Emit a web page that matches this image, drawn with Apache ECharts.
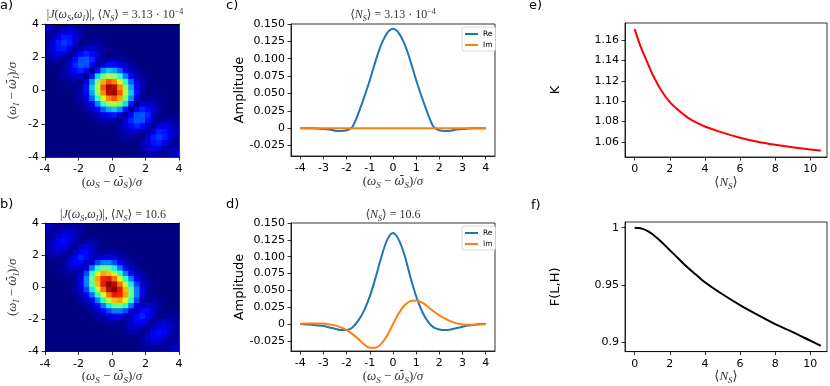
<!DOCTYPE html>
<html>
<head>
<meta charset="utf-8" />
<title>JSA panels</title>
<script src="https://cdn.jsdelivr.net/npm/echarts@6/dist/echarts.min.js"></script>
<style>
  html, body { margin: 0; padding: 0; background: #fff; }
  #chart { width: 830px; height: 386px; }
</style>
</head>
<body>
<div id="chart"></div>
<script type="text/javascript">
// |J| maps, 24x24 cells, top row first, values in percent of the peak
var jsaLow = [
  [8,6,2,3,5,4,2,1,0,0,0,0,0,0,0,0,0,0,0,0,0,0,0,0],
  [6,2,5,9,10,7,4,1,0,0,0,0,0,0,0,0,0,0,0,0,0,0,0,0],
  [2,5,11,15,14,10,4,0,1,1,1,0,0,0,0,0,0,0,0,0,0,0,0,0],
  [3,9,15,18,15,8,1,2,3,3,1,1,0,0,0,0,0,0,0,0,0,0,0,0],
  [5,10,14,15,10,2,5,8,8,5,3,1,0,0,0,0,0,0,0,0,0,0,0,0],
  [4,7,10,8,2,6,13,16,13,8,3,0,1,1,1,0,0,0,0,0,0,0,0,0],
  [2,4,4,1,5,13,20,21,16,8,1,4,5,4,2,1,0,0,0,0,0,0,0,0],
  [1,1,0,2,8,16,21,20,12,1,9,14,13,10,6,3,1,0,0,0,0,0,0,0],
  [0,0,1,3,8,13,16,12,1,14,27,32,29,22,13,7,3,1,0,0,0,0,0,0],
  [0,0,1,3,5,8,8,1,14,34,50,57,53,40,25,13,6,2,1,0,0,0,0,0],
  [0,0,1,1,3,3,1,9,27,50,72,82,77,61,40,22,10,4,1,0,0,0,0,0],
  [0,0,0,1,1,0,4,14,32,57,82,97,95,77,53,29,13,5,1,0,0,0,0,0],
  [0,0,0,0,0,1,5,13,29,53,77,95,97,82,57,32,14,4,0,1,1,0,0,0],
  [0,0,0,0,0,1,4,10,22,40,61,77,82,72,50,27,9,1,3,3,1,1,0,0],
  [0,0,0,0,0,1,2,6,13,25,40,53,57,50,34,14,1,8,8,5,3,1,0,0],
  [0,0,0,0,0,0,1,3,7,13,22,29,32,27,14,1,12,16,13,8,3,1,0,0],
  [0,0,0,0,0,0,0,1,3,6,10,13,14,9,1,12,20,21,16,8,2,0,1,1],
  [0,0,0,0,0,0,0,0,1,2,4,5,4,1,8,16,21,20,13,5,1,4,4,2],
  [0,0,0,0,0,0,0,0,0,1,1,1,0,3,8,13,16,13,6,2,8,10,7,4],
  [0,0,0,0,0,0,0,0,0,0,0,0,1,3,5,8,8,5,2,10,15,14,10,5],
  [0,0,0,0,0,0,0,0,0,0,0,0,1,1,3,3,2,1,8,15,18,15,9,3],
  [0,0,0,0,0,0,0,0,0,0,0,0,0,1,1,1,0,4,10,14,15,11,5,2],
  [0,0,0,0,0,0,0,0,0,0,0,0,0,0,0,0,1,4,7,10,9,5,2,6],
  [0,0,0,0,0,0,0,0,0,0,0,0,0,0,0,0,1,2,4,5,3,2,6,8]
];
var jsaHigh = [
  [7,5,2,2,3,3,2,1,0,0,0,0,0,0,0,0,0,0,0,0,0,0,0,0],
  [5,2,4,6,7,5,3,1,0,0,0,0,0,0,0,0,0,0,0,0,0,0,0,0],
  [2,4,8,11,10,7,2,0,1,1,0,0,0,0,0,0,0,0,0,0,0,0,0,0],
  [2,6,11,13,10,5,1,3,3,2,1,0,0,0,0,0,0,0,0,0,0,0,0,0],
  [3,7,10,10,6,2,6,8,7,3,1,1,1,0,0,0,0,0,0,0,0,0,0,0],
  [3,5,7,5,2,7,12,13,8,3,2,3,3,2,1,0,0,0,0,0,0,0,0,0],
  [2,3,2,1,6,12,16,13,6,5,10,10,8,5,3,1,0,0,0,0,0,0,0,0],
  [1,1,0,3,8,13,13,7,9,19,25,25,19,12,6,3,1,0,0,0,0,0,0,0],
  [0,0,1,3,7,8,6,9,24,40,49,47,36,24,13,7,3,1,0,0,0,0,0,0],
  [0,0,1,2,3,3,5,19,40,61,73,70,58,41,25,13,6,3,1,0,0,0,0,0],
  [0,0,0,1,1,2,10,25,49,73,88,90,79,61,41,24,12,5,2,0,0,0,0,0],
  [0,0,0,0,1,3,10,25,47,70,90,99,95,79,58,36,19,8,3,1,0,0,0,0],
  [0,0,0,0,1,3,8,19,36,58,79,95,99,90,70,47,25,10,3,1,0,0,0,0],
  [0,0,0,0,0,2,5,12,24,41,61,79,90,88,73,49,25,10,2,1,1,0,0,0],
  [0,0,0,0,0,1,3,6,13,25,41,58,70,73,61,40,19,5,3,3,2,1,0,0],
  [0,0,0,0,0,0,1,3,7,13,24,36,47,49,40,24,9,6,8,7,3,1,0,0],
  [0,0,0,0,0,0,0,1,3,6,12,19,25,25,19,9,7,13,13,8,3,0,1,1],
  [0,0,0,0,0,0,0,0,1,3,5,8,10,10,5,6,13,16,12,6,1,2,3,2],
  [0,0,0,0,0,0,0,0,0,1,2,3,3,2,3,8,13,12,7,2,5,7,5,3],
  [0,0,0,0,0,0,0,0,0,0,0,1,1,1,3,7,8,6,2,6,10,10,7,3],
  [0,0,0,0,0,0,0,0,0,0,0,0,0,1,2,3,3,1,5,10,13,11,6,2],
  [0,0,0,0,0,0,0,0,0,0,0,0,0,0,1,1,0,2,7,10,11,8,4,2],
  [0,0,0,0,0,0,0,0,0,0,0,0,0,0,0,0,1,3,5,7,6,4,2,5],
  [0,0,0,0,0,0,0,0,0,0,0,0,0,0,0,0,1,2,3,3,2,2,5,7]
];

// cuts through the JSA
var omega = [-4,-3.75,-3.5,-3.25,-3,-2.75,-2.5,-2.25,-2,-1.75,-1.5,-1.25,-1,-0.75,-0.5,-0.25,0,
             0.25,0.5,0.75,1,1.25,1.5,1.75,2,2.25,2.5,2.75,3,3.25,3.5,3.75,4];
var reLow = [0,0,0,-0.0005,-0.001,-0.002,-0.0035,-0.004,-0.003,0.002,0.021,0.044,0.069,0.097,0.121,0.137,0.143,
             0.137,0.121,0.097,0.069,0.044,0.021,0.002,-0.003,-0.004,-0.0035,-0.002,-0.001,-0.0005,0,0,0];
var imLow = [0,0,0,0,0,0,0,0,0,0,0,0,0,0,0,0,0,0,0,0,0,0,0,0,0,0,0,0,0,0,0,0,0];
var reHigh = [0,-0.0005,-0.001,-0.002,-0.003,-0.005,-0.007,-0.009,-0.009,-0.005,0.005,0.020,0.041,0.069,0.100,0.125,0.135,
              0.125,0.102,0.070,0.041,0.019,0.004,-0.005,-0.008,-0.009,-0.008,-0.006,-0.004,-0.002,-0.001,0,0.0005];
var imHigh = [0.0003,0.0008,0.001,0.001,0.0008,-0.0005,-0.002,-0.005,-0.009,-0.015,-0.022,-0.030,-0.035,-0.035,-0.029,-0.017,0,
              0.016,0.028,0.034,0.035,0.032,0.026,0.019,0.013,0.008,0.004,0.001,-0.0005,-0.001,-0.001,-0.0005,-0.0003];

// K and fidelity against mean photon number
var meanN = [0,0.25,0.5,0.75,1,1.5,2,2.5,3,3.5,4,5,6,7,8,9,10,10.6];
var schmidtK = [1.171,1.158,1.147,1.137,1.127,1.111,1.099,1.091,1.084,1.079,1.075,1.069,1.064,1.060,1.057,1.0545,1.0525,1.0515];
var fidelity = [1.0,0.9997,0.9988,0.997,0.9945,0.988,0.9805,0.973,0.9655,0.959,0.9525,0.942,0.9325,0.924,0.916,0.909,0.9015,0.897];

// tick labels
var mapTicks = [-4,-2,0,2,4];
var cutXTicks = [-4,-3,-2,-1,0,1,2,3,4];
var ampTicks = [-0.025,0,0.025,0.05,0.075,0.1,0.125,0.15];
var nTicks = [0,2,4,6,8,10];
var kTicks = [1.06,1.08,1.1,1.12,1.14,1.16];
var fTicks = [0.9,0.95,1];

var jetColors = ['#000080','#0000ff','#0080ff','#15ffe2','#7bff7b','#e2ff15','#ff9700','#ff2100','#800000'];

function heatData(rows) {
  var out = [];
  rows.forEach(function (row, r) {
    row.forEach(function (v, k) { out.push([k, rows.length - 1 - r, v / 100]); });
  });
  return out;
}
function pairs(xs, ys) {
  return xs.map(function (x, i) { return [x, ys[i]]; });
}
var cellIdx = jsaLow[0].map(function (v, i) { return i; });

// one cell per data item, slightly oversized on every side so neighbours leave no seam
function renderCell(params, api) {
  var c = api.coord([api.value(0), api.value(1)]);
  var s = api.size([1, 1]);
  return {
    type: 'rect',
    shape: { x: c[0] - s[0] / 2 - 0.5, y: c[1] - s[1] / 2 - 0.5, width: s[0] + 1, height: s[1] + 1 },
    style: { fill: api.visual('color') }
  };
}

var serif = 'Liberation Serif, DejaVu Serif, serif';
var barFont = 'DejaVu Serif';
var mathRich = {
  n: { fontFamily: serif, fontSize: 13, fontWeight: 'normal', color: '#333', lineHeight: 16 },
  i: { fontFamily: serif, fontStyle: 'italic', fontWeight: 'normal', fontSize: 13, color: '#333', lineHeight: 16 },
  b: { fontFamily: barFont, fontStyle: 'italic', fontWeight: 'normal', fontSize: 12, color: '#333', lineHeight: 16 },
  sb: { fontFamily: serif, fontStyle: 'italic', fontWeight: 'normal', fontSize: 9, color: '#333', lineHeight: 11, verticalAlign: 'bottom' },
  sp: { fontFamily: serif, fontSize: 8, fontWeight: 'normal', color: '#333', lineHeight: 9, verticalAlign: 'top' }
};
var titleRich = {
  n: { fontFamily: serif, fontSize: 12, fontWeight: 'normal', color: '#333', lineHeight: 15 },
  i: { fontFamily: serif, fontStyle: 'italic', fontWeight: 'normal', fontSize: 12, color: '#333', lineHeight: 15 },
  sb: { fontFamily: serif, fontStyle: 'italic', fontWeight: 'normal', fontSize: 8, color: '#333', lineHeight: 10, verticalAlign: 'bottom' },
  sp: { fontFamily: serif, fontSize: 8, fontWeight: 'normal', color: '#333', lineHeight: 9, verticalAlign: 'top' }
};
var labS = '{n|(}{i|ω}{sb|S}{n| − }{b|ω̄}{sb|S}{n|)/}{i|σ}';
var labI = '{n|(}{i|ω}{sb|I}{n| − }{b|ω̄}{sb|I}{n|)/}{i|σ}';
var labN = '{n|⟨}{i|N}{sb|S}{n|⟩}';
var nsLow = '{n|⟨}{i|N}{sb|S}{n|⟩ = 3.13 · 10}{sp|−4}';
var nsHigh = '{n|⟨}{i|N}{sb|S}{n|⟩ = 10.6}';
var jsaTitle = '{n||}{i|J}{n|(}{i|ω}{sb|S}{n|,}{i|ω}{sb|I}{n|)|, }';

var tickFont = { fontFamily: 'DejaVu Sans', fontSize: 11, color: '#000' };
var black = { color: '#000', width: 0.8 };

function valAxis(grid, min, max, ticks, extra) {
  var ax = {
    type: 'value', gridIndex: grid, min: min, max: max,
    splitLine: { show: false },
    axisLine: { show: true, onZero: false, lineStyle: black },
    axisTick: { show: true, length: 3.5, lineStyle: black, customValues: ticks },
    axisLabel: Object.assign({ margin: 6, customValues: ticks }, tickFont)
  };
  return Object.assign(ax, extra || {});
}
function catAxis(grid, pos) {
  return {
    type: 'category', gridIndex: grid, data: cellIdx, position: pos, z: 5,
    axisLine: { show: true, onZero: false, lineStyle: black },
    axisTick: { show: false }, axisLabel: { show: false }, splitLine: { show: false }
  };
}
function xName(text, gap) {
  return { name: text, nameLocation: 'middle', nameGap: gap, nameTextStyle: { rich: mathRich } };
}
function yName(text, gap, plain) {
  var st = plain ? { fontFamily: 'DejaVu Sans', fontSize: 13, color: '#000' } : { rich: mathRich };
  return { name: text, nameLocation: 'middle', nameRotate: 90, nameGap: gap, nameTextStyle: st };
}
function letter(t, x, y) {
  return { text: t, left: x, top: y, padding: 0, textAlign: 'left', textVerticalAlign: 'middle',
           textStyle: { fontFamily: 'DejaVu Sans', fontSize: 13, fontWeight: 'normal', color: '#000' } };
}
function heading(t, x, y) {
  return { text: t, left: x, top: y, padding: 0, textAlign: 'center', textVerticalAlign: 'middle',
           textStyle: { fontWeight: 'normal', rich: titleRich } };
}
function lineSeries(name, xi, xs, ys, color) {
  return { name: name, type: 'line', xAxisIndex: xi, yAxisIndex: xi, data: pairs(xs, ys),
           showSymbol: false, smooth: 0.3, lineStyle: { width: 2, color: color }, itemStyle: { color: color },
           emphasis: { disabled: true }, silent: true };
}
function mapSeries(axisIdx, rows) {
  return { type: 'custom', xAxisIndex: axisIdx, yAxisIndex: axisIdx, data: heatData(rows),
           renderItem: renderCell, clip: true, silent: true, encode: { x: 0, y: 1 } };
}
function legendAt(top) {
  return { orient: 'vertical', left: 462, top: top, data: ['Re', 'Im'], icon: 'rect',
           itemWidth: 13, itemHeight: 2, itemGap: 3, selectedMode: false,
           padding: [3, 3, 2, 3], backgroundColor: '#fff', borderColor: '#d0d0d0', borderWidth: 0.8, borderRadius: 2,
           textStyle: { fontFamily: 'DejaVu Sans', fontSize: 7.5, color: '#000' } };
}
var ampFmt = function (v) { return v === 0 ? '0' : v.toFixed(3); };

var chart = echarts.init(document.getElementById('chart'), null, { renderer: 'canvas' });
chart.setOption({
  animation: false,
  title: [
    letter('a)', 0, 6), letter('b)', 0, 205), letter('c)', 226, 6), letter('d)', 226, 205),
    letter('e)', 529, 6), letter('f)', 531, 206),
    heading(jsaTitle + nsLow, 115, 15), heading(jsaTitle + nsHigh, 113, 215),
    heading(nsLow, 393, 15), heading(nsHigh, 393, 215)
  ],
  grid: [
    { left: 45, top: 24, width: 134, height: 133 },
    { left: 45, top: 223, width: 134, height: 133 },
    { left: 291, top: 24, width: 204, height: 132, show: true, borderColor: '#000', borderWidth: 0.8 },
    { left: 291, top: 223, width: 204, height: 132, show: true, borderColor: '#000', borderWidth: 0.8 },
    { left: 625, top: 23, width: 202, height: 134, show: true, borderColor: '#000', borderWidth: 0.8 },
    { left: 625, top: 222, width: 202, height: 133, show: true, borderColor: '#000', borderWidth: 0.8 }
  ],
  xAxis: [
    catAxis(0, 'top'),
    valAxis(0, -4, 4, mapTicks, Object.assign({ interval: 2, z: 5, axisLabel: Object.assign({ margin: 7, customValues: mapTicks }, tickFont) }, xName(labS, 17))),
    catAxis(1, 'top'),
    valAxis(1, -4, 4, mapTicks, Object.assign({ interval: 2, z: 5, axisLabel: Object.assign({ margin: 7, customValues: mapTicks }, tickFont) }, xName(labS, 17))),
    valAxis(2, -4.4, 4.4, cutXTicks, Object.assign({ axisLabel: Object.assign({ margin: 7, customValues: cutXTicks }, tickFont) }, xName(labS, 18))),
    valAxis(3, -4.4, 4.4, cutXTicks, Object.assign({ axisLabel: Object.assign({ margin: 7, customValues: cutXTicks }, tickFont) }, xName(labS, 18))),
    valAxis(4, -0.55, 10.95, nTicks, Object.assign({ axisLabel: Object.assign({ margin: 7, customValues: nTicks }, tickFont) }, xName(labN, 18))),
    valAxis(5, -0.55, 10.95, nTicks, Object.assign({ axisLabel: Object.assign({ margin: 7, customValues: nTicks }, tickFont) }, xName(labN, 17)))
  ],
  yAxis: [
    catAxis(0, 'right'),
    valAxis(0, -4, 4, mapTicks, Object.assign({ interval: 2, z: 5 }, yName(labI, 24))),
    catAxis(1, 'right'),
    valAxis(1, -4, 4, mapTicks, Object.assign({ interval: 2, z: 5 }, yName(labI, 24))),
    valAxis(2, -0.04, 0.15, ampTicks, Object.assign({ axisLabel: Object.assign({ margin: 6, customValues: ampTicks, formatter: ampFmt }, tickFont) }, yName('Amplitude', 41, true))),
    valAxis(3, -0.04, 0.15, ampTicks, Object.assign({ axisLabel: Object.assign({ margin: 6, customValues: ampTicks, formatter: ampFmt }, tickFont) }, yName('Amplitude', 41, true))),
    valAxis(4, 1.045, 1.177, kTicks, Object.assign({ axisLabel: Object.assign({ margin: 6, customValues: kTicks, formatter: function (v) { return v.toFixed(2); } }, tickFont) }, yName('K', 63, true))),
    valAxis(5, 0.892, 1.005, fTicks, yName('F(L,H)', 63, true))
  ],
  visualMap: {
    type: 'continuous', min: 0, max: 1, seriesIndex: [0, 1], dimension: 2, show: false,
    inRange: { color: jetColors }
  },
  legend: [legendAt(27), legendAt(226)],
  series: [
    mapSeries(0, jsaLow),
    mapSeries(2, jsaHigh),
    lineSeries('Re', 4, omega, reLow, '#1f77b4'),
    lineSeries('Im', 4, omega, imLow, '#ff7f0e'),
    lineSeries('Re', 5, omega, reHigh, '#1f77b4'),
    lineSeries('Im', 5, omega, imHigh, '#ff7f0e'),
    lineSeries('K', 6, meanN, schmidtK, '#ff0000'),
    lineSeries('F', 7, meanN, fidelity, '#000000')
  ]
});
</script>
</body>
</html>
